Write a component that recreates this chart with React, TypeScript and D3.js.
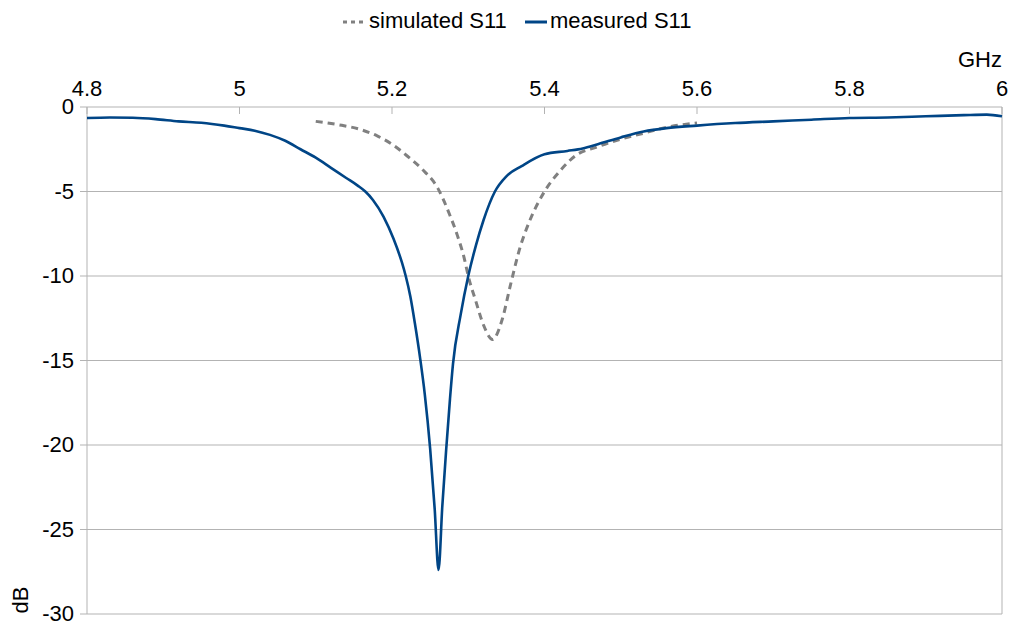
import React from "react";
import * as d3 from "d3";

// Frequency axis ticks (GHz) and level ticks (dB)
const freqTicks = [4.8, 5.0, 5.2, 5.4, 5.6, 5.8, 6.0];
const dbTicks = [0, -5, -10, -15, -20, -25, -30];

// Measured reflection coefficient: [GHz, dB]
const measuredS11: [number, number][] = [
  [4.8, -0.65], [4.83, -0.62], [4.86, -0.64], [4.89, -0.72], [4.92, -0.85],
  [4.95, -0.93], [4.98, -1.1], [5.0, -1.25], [5.02, -1.4], [5.04, -1.65],
  [5.06, -2.0], [5.08, -2.5], [5.1, -3.0], [5.12, -3.6], [5.14, -4.2],
  [5.155, -4.65], [5.165, -5.0], [5.175, -5.5], [5.189, -6.5], [5.202, -7.8],
  [5.213, -9.2], [5.218, -10.0], [5.224, -11.2], [5.23, -12.8], [5.237, -14.9],
  [5.243, -17.0], [5.25, -20.2], [5.256, -23.8], [5.261, -27.4], [5.266, -23.6],
  [5.271, -20.3], [5.276, -17.3], [5.28, -15.2], [5.29, -12.3], [5.3, -10.0],
  [5.31, -8.2], [5.32, -6.7], [5.335, -5.0], [5.35, -4.1], [5.37, -3.5],
  [5.4, -2.8], [5.43, -2.6], [5.45, -2.45], [5.47, -2.2], [5.5, -1.8],
  [5.53, -1.45], [5.56, -1.25], [5.6, -1.1], [5.65, -0.95], [5.7, -0.85],
  [5.75, -0.75], [5.8, -0.65], [5.85, -0.62], [5.9, -0.55], [5.95, -0.48],
  [5.98, -0.45], [6.0, -0.55],
];

// Simulated reflection coefficient: [GHz, dB]
const simulatedS11: [number, number][] = [
  [5.1, -0.85], [5.13, -1.05], [5.16, -1.35], [5.18, -1.7], [5.2, -2.2],
  [5.22, -2.9], [5.24, -3.7], [5.26, -4.8], [5.275, -6.3], [5.285, -7.5],
  [5.295, -9.0], [5.3, -10.0], [5.31, -11.5], [5.32, -12.9], [5.332, -13.75],
  [5.345, -12.5], [5.355, -10.6], [5.368, -8.3], [5.38, -6.8], [5.4, -5.0],
  [5.42, -3.8], [5.44, -2.9], [5.47, -2.35], [5.5, -1.9], [5.53, -1.55],
  [5.56, -1.2], [5.6, -0.95],
];

const W = 1015;
const H = 625;
const left = 87;
const right = 1002;
const top = 107;
const bottom = 614;

const FONT = "'Liberation Sans', Arial, sans-serif";
const FS = 22;
const GRID = "#b3b3b3";
const BLUE = "#004586";
const GREY = "#808080";

export default function App() {
  const x = d3.scaleLinear().domain([4.8, 6.0]).range([left, right]);
  const y = d3.scaleLinear().domain([0, -30]).range([top, bottom]);

  const line = d3
    .line<[number, number]>()
    .x((d) => x(d[0]))
    .y((d) => y(d[1]))
    .curve(d3.curveMonotoneX);

  return (
    <svg
      width={W}
      height={H}
      style={{ position: "fixed", left: 0, top: 0, background: "#fff" }}
      fontFamily={FONT}
    >
      {/* horizontal grid and left ticks */}
      {dbTicks.map((t) => (
        <g key={t}>
          <line x1={left - 7} x2={right} y1={y(t)} y2={y(t)} stroke={GRID} strokeWidth={1} />
          <text x={left - 13} y={y(t)} dy="0.33em" textAnchor="end" fontSize={FS} fill="#000">
            {t}
          </text>
        </g>
      ))}
      {/* plot frame */}
      <line x1={left} x2={left} y1={top} y2={bottom} stroke={GRID} />
      <line x1={right} x2={right} y1={top} y2={bottom} stroke={GRID} />
      {/* top frequency ticks */}
      {freqTicks.map((t) => (
        <g key={t}>
          <line x1={x(t)} x2={x(t)} y1={top} y2={top + 7} stroke={GRID} />
          <text x={x(t)} y={96} textAnchor="middle" fontSize={FS} fill="#000">
            {d3.format("~g")(t)}
          </text>
        </g>
      ))}
      <text x={right} y={67} textAnchor="end" fontSize={FS} fill="#000">
        GHz
      </text>
      <text
        transform={`translate(28, 600) rotate(-90)`}
        textAnchor="middle"
        fontSize={FS}
        fill="#000"
      >
        dB
      </text>

      {/* curves */}
      <path d={line(simulatedS11) ?? ""} fill="none" stroke={GREY} strokeWidth={3} strokeDasharray="7 5" />
      <path d={line(measuredS11) ?? ""} fill="none" stroke={BLUE} strokeWidth={2.6} strokeLinejoin="round" />

      {/* legend */}
      <g fontSize={FS} fill="#000">
        <line x1={343} x2={367} y1={22} y2={22} stroke={GREY} strokeWidth={3} strokeDasharray="4 4" />
        <text x={369} y={28}>simulated S11</text>
        <line x1={525} x2={547} y1={22} y2={22} stroke={BLUE} strokeWidth={3} />
        <text x={550} y={28}>measured S11</text>
      </g>
    </svg>
  );
}
